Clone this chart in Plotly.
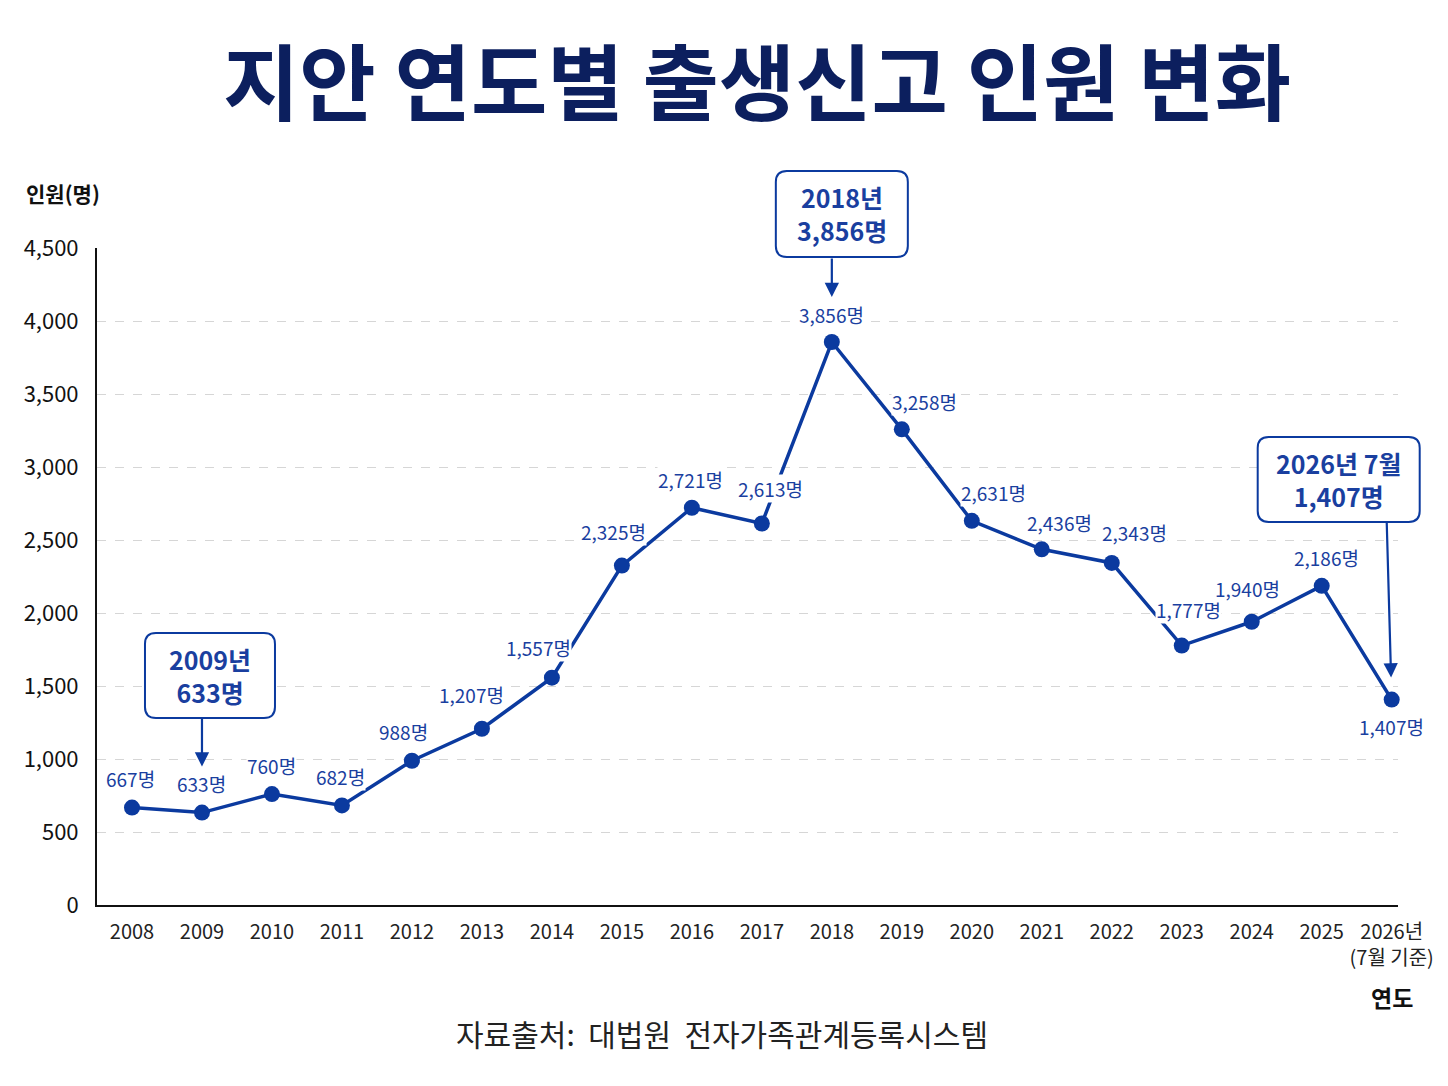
import plotly.graph_objects as go

# ---- data ----
years = ["2008", "2009", "2010", "2011", "2012", "2013", "2014", "2015", "2016",
         "2017", "2018", "2019", "2020", "2021", "2022", "2023", "2024", "2025", "2026"]
tick_text = years[:-1] + ["2026년<br>(7월 기준)"]
births = [667, 633, 760, 682, 988, 1207, 1557, 2325, 2721,
          2613, 3856, 3258, 2631, 2436, 2343, 1777, 1940, 2186, 1407]

# label offsets in pixels (dx, dy), dy negative = above the point
label_dx = [-1, 0, 0, -1, -8, -10, -13, -8, -1, 9, 0, 23, 22, 18, 23, 7, -4, 5, 0]
label_dy = [-29, -29, -29, -29, -29, -34, -30, -34, -28, -35, -28, -28, -28, -27, -30, -36, -33, -28, 27]

# callouts: index, text, box centre value, box dx, width, height, arrow ax, ay, standoff
callouts = [
    dict(i=1, text="2009년<br>633명", cy=1572, dx=8, w=130, h=85, ax=0, ay=-96, standoff=46),
    dict(i=10, text="2018년<br>3,856명", cy=4733, dx=10, w=132, h=86, ax=0, ay=-85, standoff=45),
    dict(i=18, text="2026년 7월<br>1,407명", cy=2914, dx=-53, w=162, h=85, ax=-5, ay=-178, standoff=22),
]

BLUE = "#0b3a9f"
TEXT_BLUE = "#1a3f9f"
NAVY = "#0c1f5e"
FONT = "Noto Sans CJK KR"

OFF = 8  # page body margin
W, H = 1448 - OFF, 1086 - OFF
L, T = 97 - OFF, 248 - OFF
PW, PH = 1301, 657
R, B = W - L - PW, H - T - PH
XMIN, XMAX = -0.5, 18.09
YMAX = 4500

x_idx = list(range(len(years)))


def to_paper(px, py):
    # px, py are page pixels of the reference picture
    return (px - OFF - L) / PW, (T + PH - (py - OFF)) / PH


def data_paper(i, v):
    return (i - XMIN) / (XMAX - XMIN), v / YMAX


def round_rect(cx, cy, w, h, r=11):
    # cx, cy in paper units; w, h, r in pixels
    sx, sy = 1.0 / PW, 1.0 / PH
    x0, x1 = cx - w / 2 * sx, cx + w / 2 * sx
    y0, y1 = cy - h / 2 * sy, cy + h / 2 * sy
    rx, ry = r * sx, r * sy
    p = lambda x, y: "%.5f,%.5f" % (x, y)
    return (
        "M" + p(x0 + rx, y0) + " L" + p(x1 - rx, y0) +
        " Q" + p(x1, y0) + " " + p(x1, y0 + ry) +
        " L" + p(x1, y1 - ry) +
        " Q" + p(x1, y1) + " " + p(x1 - rx, y1) +
        " L" + p(x0 + rx, y1) +
        " Q" + p(x0, y1) + " " + p(x0, y1 - ry) +
        " L" + p(x0, y0 + ry) +
        " Q" + p(x0, y0) + " " + p(x0 + rx, y0) + " Z"
    )


fig = go.Figure()

fig.add_trace(go.Scatter(
    x=x_idx, y=births,
    mode="lines+markers",
    line=dict(color=BLUE, width=3.5),
    marker=dict(color=BLUE, size=16),
    hoverinfo="skip",
    cliponaxis=False,
))

annotations = []

# value labels
for i, v in enumerate(births):
    annotations.append(dict(
        x=i, y=v, xref="x", yref="y",
        text=f"{v:,}명", showarrow=False,
        xshift=label_dx[i], yshift=-label_dy[i],
        font=dict(family=FONT, size=19, color=TEXT_BLUE),
        bgcolor="white", borderpad=0,
    ))

shapes = []
for c in callouts:
    bx, by = data_paper(c["i"], c["cy"])
    bx += c["dx"] / PW
    shapes.append(dict(
        type="path", xref="paper", yref="paper",
        path=round_rect(bx, by, c["w"], c["h"]),
        line=dict(color=BLUE, width=2), fillcolor="white", layer="above",
    ))
    annotations.append(dict(
        x=bx, y=by, xref="paper", yref="paper",
        xanchor="center", yanchor="middle",
        text="<b>" + c["text"] + "</b>", showarrow=False,
        font=dict(family=FONT, size=25, color=TEXT_BLUE),
        align="center",
    ))
    annotations.append(dict(
        x=c["i"], y=births[c["i"]], xref="x", yref="y",
        text="", showarrow=True, ax=c["ax"], ay=c["ay"],
        arrowhead=2, arrowsize=1.3, arrowwidth=2.2, arrowcolor=BLUE,
        standoff=c["standoff"],
    ))

# axis titles and source
for (px, py), text, size, color in [
    ((63, 193), "<b>인원(명)</b>", 21, "#111"),
    ((1392, 997), "<b>연도</b>", 23, "#111"),
    ((722, 1033), "자료출처:  대법원  전자가족관계등록시스템", 30, "#222"),
]:
    ax_, ay_ = to_paper(px, py)
    annotations.append(dict(
        x=ax_, y=ay_, xref="paper", yref="paper", showarrow=False,
        xanchor="center", yanchor="middle",
        text=text, font=dict(family=FONT, size=size, color=color),
    ))

fig.update_layout(
    width=W, height=H,
    margin=dict(l=L, r=R, t=T, b=B),
    paper_bgcolor="white", plot_bgcolor="white",
    showlegend=False,
    title=dict(
        text="<b>지안 연도별 출생신고 인원 변화</b>",
        x=(757 - OFF) / W, xref="container", xanchor="center",
        y=1 - (85 - OFF) / H, yref="container", yanchor="middle",
        font=dict(family=FONT, size=83, color=NAVY, weight=900),
    ),
    xaxis=dict(
        range=[XMIN, XMAX],
        tickvals=x_idx, ticktext=tick_text,
        showgrid=False, zeroline=False,
        showline=True, linecolor="#111", linewidth=2,
        ticks="", ticklabelstandoff=8,
        tickfont=dict(family=FONT, size=20, color="#222"),
    ),
    yaxis=dict(
        range=[0, YMAX],
        tickvals=list(range(0, 4501, 500)), tickformat=",",
        showgrid=True, gridcolor="#d6d6d6", griddash="dash", gridwidth=1,
        zeroline=False,
        showline=True, linecolor="#111", linewidth=2,
        ticks="", ticklabelstandoff=12,
        tickfont=dict(family=FONT, size=22, color="#111"),
    ),
    annotations=annotations,
    shapes=shapes,
)

fig.write_html("out.html")
